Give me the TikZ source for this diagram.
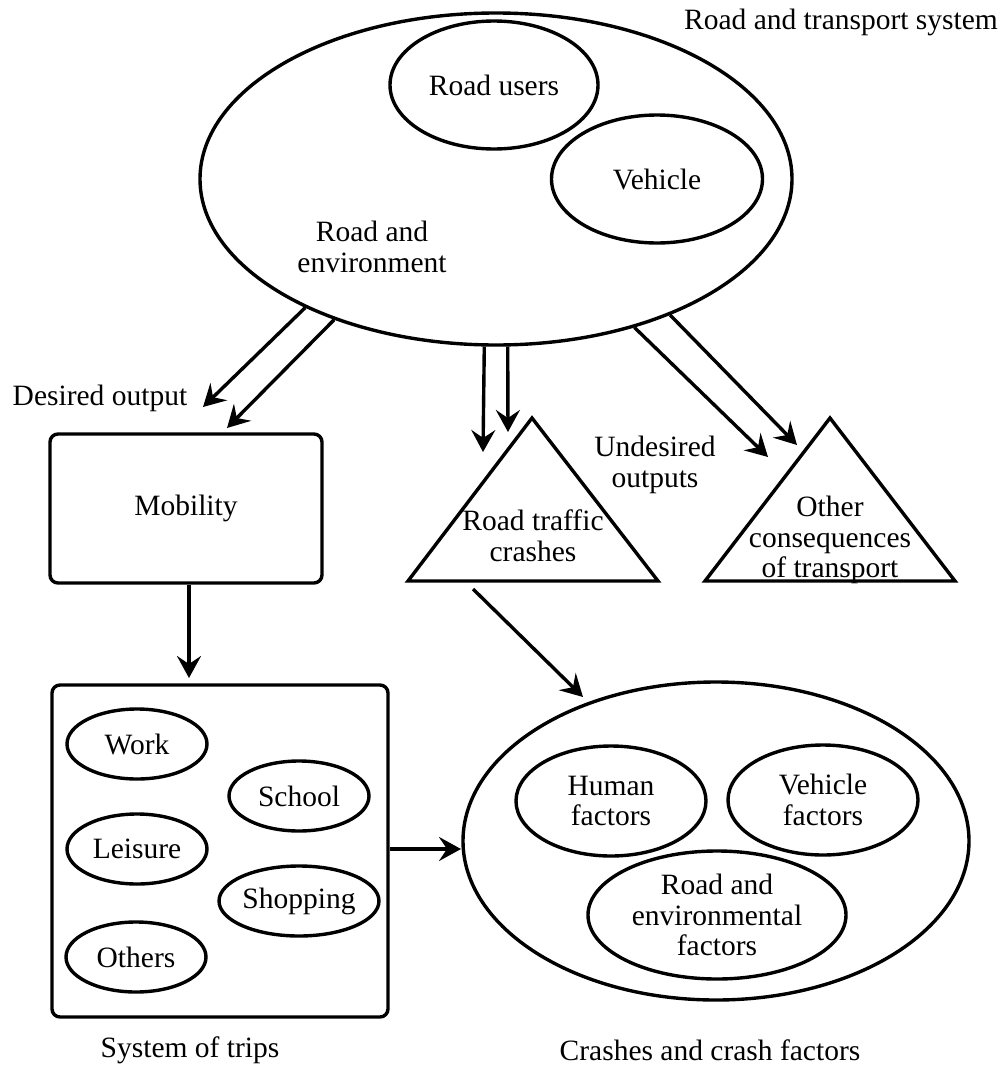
\documentclass[tikz,border=0pt]{standalone}
\usepackage{fontspec}
\setmainfont{Liberation Serif}
\usetikzlibrary{shapes.geometric,arrows.meta}
\begin{document}
\begin{tikzpicture}[x=1pt,y=-1pt,
  every node/.style={font=\fontsize{29.5}{30.5}\selectfont, align=center, inner sep=0pt},
  ell/.style={draw, ellipse, line width=3.4pt, inner sep=0pt},
  tripell/.style={ell, minimum width=140pt, minimum height=70pt},
  box/.style={draw, rectangle, rounded corners=8pt, line width=3.4pt, inner sep=0pt},
  tri/.style={line width=3.4pt, line join=miter},
  arr/.style={line width=3.4pt, -{Stealth[length=22pt,width=24pt,inset=8pt]}}]
\useasboundingbox (0,0) rectangle (1001,1074);

% Road and transport system
\node[ell, minimum width=592pt, minimum height=332pt] (rts) at (496,179) {};
\node (rtslbl) at (841,22) {Road and transport system};
\node[ell, minimum width=208pt, minimum height=128pt] (ru) at (494,85) {Road users};
\node[ell, minimum width=211pt, minimum height=128pt] (veh) at (657,179) {Vehicle};
\node (renv) at (372,247) {Road and\\environment};

% outputs
\node (desired) at (100,398) {Desired output};
\node (undesired) at (655,465) {Undesired\\outputs};

% Mobility
\node[box, minimum width=272pt, minimum height=149pt] (mob) at (186,508.5) {Mobility};

% Triangles
\coordinate (t1a) at (532,418);
\coordinate (t1l) at (408,581);
\coordinate (t1r) at (658,581);
\draw[tri] (t1a) -- (t1l) -- (t1r) -- cycle;
\node (rtc) at (533,536) {Road traffic\\crashes};

\coordinate (t2a) at (830,418);
\coordinate (t2l) at (705,581);
\coordinate (t2r) at (955,581);
\draw[tri] (t2a) -- (t2l) -- (t2r) -- cycle;
\node (oc) at (830,540) {Other\\consequences\\of transport};

% System of trips
\node[box, minimum width=336pt, minimum height=332pt] (trips) at (220,851) {};
\node[tripell] (work) at (137,744) {Work};
\node[tripell] (school) at (299,796) {School};
\node[tripell] (leisure) at (137,849) {Leisure};
\node[tripell] (shop) at (299,901) {Shopping};
\node[tripell] (others) at (136,957) {Others};
\node (tripslbl) at (190,1050) {System of trips};

% Crashes and crash factors
\node[ell, minimum width=506pt, minimum height=318pt] (crash) at (716,841) {};
\node[ell, minimum width=190pt, minimum height=110pt] (hf) at (611,801) {Human\\factors};
\node[ell, minimum width=190pt, minimum height=110pt] (vf) at (823,800) {Vehicle\\factors};
\node[ell, minimum width=258pt, minimum height=128pt] (ref) at (717,915) {Road and\\environmental\\factors};
\node (crashlbl) at (710,1050) {Crashes and crash factors};

% arrow end points
\coordinate (e1) at (203,407);
\coordinate (e2) at (227,428);
\coordinate (e3) at (483,452);
\coordinate (e4) at (508,432);
\coordinate (e5) at (768,457);
\coordinate (e6) at (797,445);
\coordinate (mt) at (189,678);
\coordinate (c0) at (473,589);
\coordinate (c1) at (583,697);
\coordinate (tc) at (461,849);

% arrows
\draw[arr] (rts.214) -- (e1);
\draw[arr] (rts.221) -- (e2);
\draw[arr] (rts.266) -- (e3);
\draw[arr] (rts.274) -- (e4);
\draw[arr] (rts.313) -- (e5);
\draw[arr] (rts.322) -- (e6);
\draw[arr] (mob.south -| mt) -- (mt);
\draw[arr] (c0) -- (c1);
\draw[arr] (trips.east |- tc) -- (tc);
\end{tikzpicture}
\end{document}
